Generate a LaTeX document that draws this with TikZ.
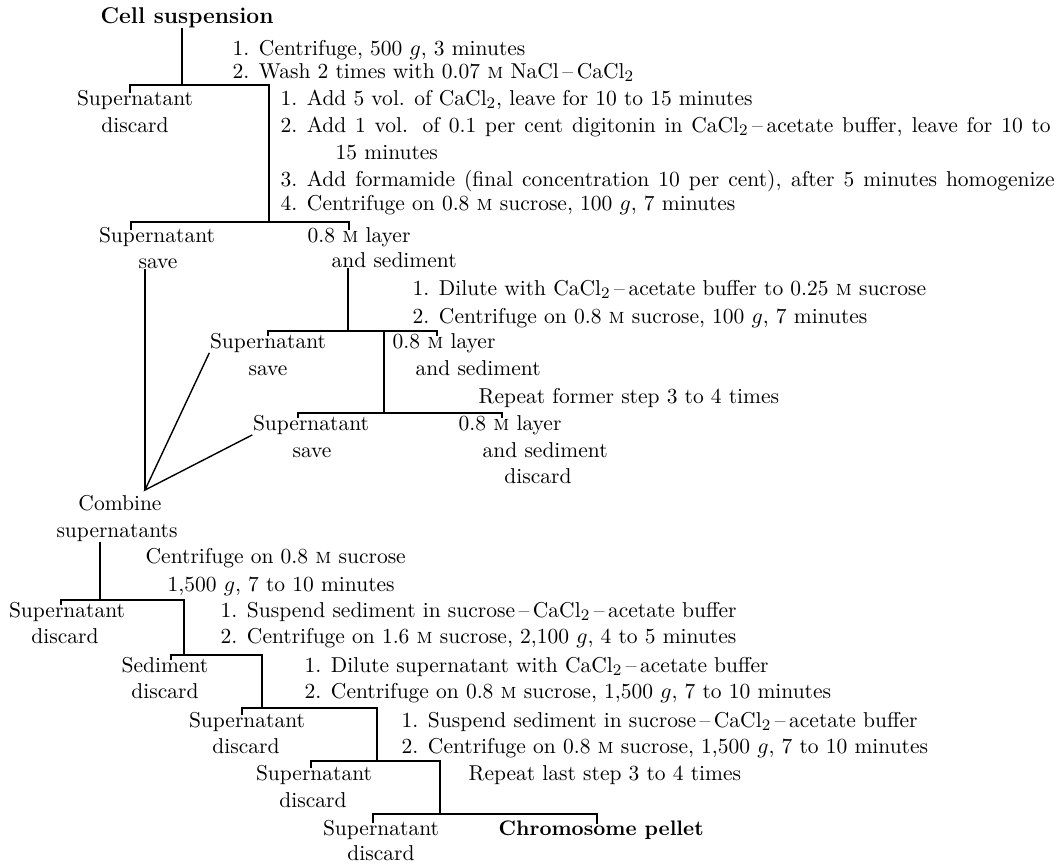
\documentclass[tikz,border=0pt]{standalone}
\usepackage{tikz}

\begin{document}
\begin{tikzpicture}[x=0.5pt,y=-0.5pt,line width=0.7pt,
	every node/.style={inner sep=0pt,font=\fontsize{10.75}{12}\selectfont},
	txt/.style={anchor=base west},
	lbl/.style={anchor=base},
	head/.style={anchor=base west,font=\fontsize{11.4}{13}\selectfont\bfseries},
	tk/.style={shorten <=-2pt},
	tktk/.style={shorten <=-2pt,shorten >=-2pt}]
	\useasboundingbox (0,0) rectangle (1063,864);

	\node[head] (cell) at (100,23) {Cell suspension};
	\node[txt] (wa) at (232,55) {1. Centrifuge, 500 $g$, 3 minutes};
	\node[txt] (wb) at (232,78) {2. Wash 2 times with 0.07 \textsc{m} NaCl\,--\,CaCl$_2$};
	\node[lbl] (supa) at (135,105) {Supernatant};
	\node[lbl] (disa) at (135,132) {discard};
	\node[txt] (da) at (280,105) {1. Add 5 vol. of CaCl$_2$, leave for 10 to 15 minutes};
	\node[txt] (db) at (280,132) {\makebox[385pt][s]{2.\kern4.7pt Add 1 vol. of 0.1 per cent digitonin in CaCl$_2$\,--\,acetate buffer, leave for 10 to}};
	\node[txt] (db2) at (335,159) {15 minutes};
	\node[txt] (dc) at (280,186) {\makebox[387pt][s]{3.\kern4.7pt Add formamide (final concentration 10 per cent), after 5 minutes homogenize}};
	\node[txt] (dd) at (280,210) {4. Centrifuge on 0.8 \textsc{m} sucrose, 100 $g$, 7 minutes};
	\node[lbl] (supb) at (157,242) {Supernatant};
	\node[lbl] (saveb) at (158,268) {save};
	\node[txt] (layb) at (307,242) {0.8 \textsc{m} layer};
	\node[txt] (sedb) at (331,267) {and sediment};

	\node[txt] (dle) at (412,295) {1. Dilute with CaCl$_2$\,--\,acetate buffer to 0.25 \textsc{m} sucrose};
	\node[txt] (dlf) at (412,323) {2. Centrifuge on 0.8 \textsc{m} sucrose, 100 $g$, 7 minutes};
	\node[lbl] (supc) at (268,348) {Supernatant};
	\node[lbl] (savec) at (268,375) {save};
	\node[txt] (layc) at (392,348) {0.8 \textsc{m} layer};
	\node[txt] (sedc) at (415,375) {and sediment};
	\node[txt] (rep) at (478,403) {Repeat former step 3 to 4 times};
	\node[lbl] (supd) at (311,430) {Supernatant};
	\node[lbl] (saved) at (312,457) {save};
	\node[txt] (layd) at (458,430) {0.8 \textsc{m} layer};
	\node[txt] (sedd) at (482,457) {and sediment};
	\node[lbl] (disd) at (538,483) {discard};
	\node[lbl] (comb) at (120,510) {Combine};
	\node[lbl] (sups) at (117,537) {supernatants};

	\node[txt] (ce) at (145,563) {Centrifuge on 0.8 \textsc{m} sucrose};
	\node[txt] (ce2) at (167,591) {1,500 $g$, 7 to 10 minutes};
	\node[lbl] (supe) at (67,617) {Supernatant};
	\node[lbl] (dise) at (65,643) {discard};
	\node[txt] (ea) at (220,617) {1. Suspend sediment in sucrose\,--\,CaCl$_2$\,--\,acetate buffer};
	\node[txt] (eb) at (220,643) {2. Centrifuge on 1.6 \textsc{m} sucrose, 2,100 $g$, 4 to 5 minutes};
	\node[lbl] (sedf) at (165,672) {Sediment};
	\node[lbl] (disf) at (165,698) {discard};
	\node[txt] (fa) at (304,672) {1. Dilute supernatant with CaCl$_2$\,--\,acetate buffer};
	\node[txt] (fb) at (304,698) {2. Centrifuge on 0.8 \textsc{m} sucrose, 1,500 $g$, 7 to 10 minutes};
	\node[lbl] (supg) at (247,727) {Supernatant};
	\node[lbl] (disg) at (246,753) {discard};
	\node[txt] (ga) at (401,727) {1. Suspend sediment in sucrose\,--\,CaCl$_2$\,--\,acetate buffer};
	\node[txt] (gb) at (401,753) {2. Centrifuge on 0.8 \textsc{m} sucrose, 1,500 $g$, 7 to 10 minutes};
	\node[lbl] (suph) at (314,780) {Supernatant};
	\node[lbl] (dish) at (313,807) {discard};
	\node[txt] (rep2) at (468,780) {Repeat last step 3 to 4 times};
	\node[lbl] (supi) at (381,835) {Supernatant};
	\node[lbl] (disi) at (381,860) {discard};
	\node[head,font=\fontsize{10.5}{12}\selectfont\bfseries] (pel) at (498,835) {Chromosome pellet};

	\coordinate (cp) at (145,490);
	\draw (cell.south -| 182,0) -- (182,85);
	\draw[tk] (supa.north -| 130,0) -- (130,85) -- (269,85) -- (269,222);
	\draw[tktk] (supb.north -| 131,0) -- (131,222) -- (349,222) -- (layb.north -| 349,0);
	\draw (saveb.south -| cp) -- (cp);
	\draw (sedb.south -| 348,0) -- (348,331);
	\draw[tktk] (supc.north -| 268,0) -- (268,331) -- (437,331) -- (layc.north -| 437,0);
	\draw (384,331) -- (384,413);
	\draw[tktk] (supd.north -| 298,0) -- (298,413) -- (502,413) -- (layd.north -| 502,0);
	\draw (supc.south west) -- (cp) -- (supd.south west);

	\draw (sups.south -| 100,0) -- (100,600);
	\draw[tk] (supe.north -| 61,0) -- (61,600) -- (184,600) -- (184,655);
	\draw[tk] (sedf.north -| 171,0) -- (171,655) -- (262,655) -- (262,708);
	\draw[tk] (supg.north -| 242,0) -- (242,708) -- (377,708) -- (377,761);
	\draw[tk] (suph.north -| 311,0) -- (311,761) -- (440,761) -- (440,814);
	\draw[tktk] (supi.north -| 373,0) -- (373,814) -- (597,814) -- (pel.north -| 597,0);

\end{tikzpicture}
\end{document}
